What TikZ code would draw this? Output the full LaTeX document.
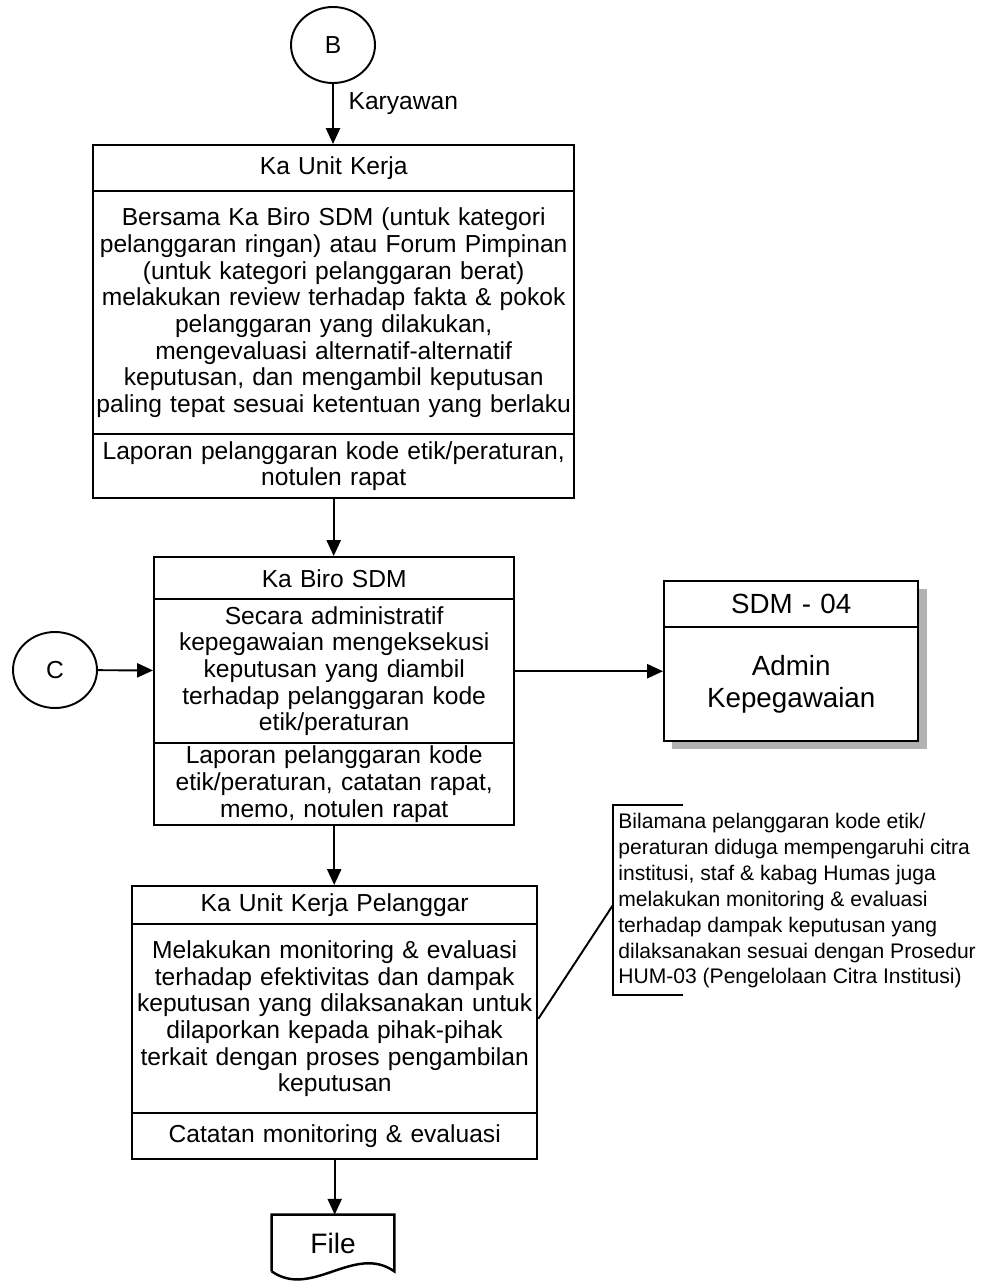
\documentclass[tikz,border=0pt]{standalone}
\usepackage{fontspec}
\setmainfont{Liberation Sans}
\usetikzlibrary{arrows.meta,shapes.geometric}
\tikzset{
    flow/.style={line width=1.1pt, -{Triangle[length=9pt,width=8pt]}},
    part/.style={draw, line width=1.4pt, fill=white, inner sep=0pt, align=center,
        anchor=north west, font=\fontsize{14}{15.2}\selectfont},
    offpage/.style={draw, ellipse, line width=1.1pt, minimum width=1.68cm,
        minimum height=1.52cm, inner sep=0pt, font=\fontsize{14}{16}\selectfont}
}
\begin{document}
\begin{tikzpicture}[x=0.02cm, y=-0.02cm]
    \useasboundingbox (0,0) rectangle (997,1288);

    % Off-page connectors
    \node[offpage] (B) at (333,45) {B};
    \node[offpage] (C) at (55,670) {C};

    % Ka Unit Kerja
    \node[part, text width=9.62cm, minimum height=0.92cm] (k1t) at (92,144) {Ka Unit Kerja};
    \node[part, text width=9.62cm, minimum height=4.86cm] (k1b) at (92,190) {Bersama Ka Biro SDM (untuk kategori\\
        pelanggaran ringan) atau Forum Pimpinan\\(untuk kategori pelanggaran berat)\\
        melakukan review terhadap fakta \& pokok\\pelanggaran yang dilakukan,\\
        mengevaluasi alternatif-alternatif\\keputusan, dan mengambil keputusan\\
        paling tepat sesuai ketentuan yang berlaku};
    \node[part, text width=9.62cm, minimum height=1.28cm] (k1f) at (92,433) {Laporan pelanggaran kode etik/peraturan,\\notulen rapat};

    % Ka Biro SDM
    \node[part, text width=7.2cm, minimum height=0.84cm] (k2t) at (153,556) {Ka Biro SDM};
    \node[part, text width=7.2cm, minimum height=2.88cm] (k2b) at (153,598) {Secara administratif\\
        kepegawaian mengeksekusi\\keputusan yang diambil\\terhadap pelanggaran kode\\etik/peraturan};
    \node[part, text width=7.2cm, minimum height=1.64cm] (k2f) at (153,742) {Laporan pelanggaran kode\\
        etik/peraturan, catatan rapat,\\memo, notulen rapat};

    % SDM - 04 (with shadow)
    \fill[gray!60] (672,589) rectangle (927,749);
    \node[part, text width=5.08cm, minimum height=0.92cm, font=\fontsize{15.8}{18}\selectfont] (admt) at (663,580) {SDM - 04};
    \node[part, text width=5.08cm, minimum height=2.28cm, font=\fontsize{15.8}{18}\selectfont] (admb) at (663,626) {Admin\\Kepegawaian};

    % Ka Unit Kerja Pelanggar
    \node[part, text width=8.1cm, minimum height=0.76cm] (k3t) at (131,885) {Ka Unit Kerja Pelanggar};
    \node[part, text width=8.1cm, minimum height=3.78cm] (k3b) at (131,923) {Melakukan monitoring \& evaluasi\\
        terhadap efektivitas dan dampak\\keputusan yang dilaksanakan untuk\\
        dilaporkan kepada pihak-pihak\\terkait dengan proses pengambilan\\keputusan};
    \node[part, text width=8.1cm, minimum height=0.92cm] (k3f) at (131,1112) {Catatan monitoring \& evaluasi};

    % Annotation
    \node[anchor=west, inner sep=0pt, text width=7.6cm, align=flush left,
        font=\fontsize{12}{14.7}\selectfont] (note) at (618,901) {Bilamana pelanggaran kode etik/\\
        peraturan diduga mempengaruhi citra\\institusi, staf \& kabag Humas juga\\
        melakukan monitoring \& evaluasi\\terhadap dampak keputusan yang\\
        dilaksanakan sesuai dengan Prosedur\\HUM-03 (Pengelolaan Citra Institusi)};
    \coordinate (brk) at (613,905);
    \draw[line width=1.1pt] (683,805) -- (613,805) -- (613,995) -- (683,995);
    \draw[line width=1.1pt] (k3b.east) -- (brk);

    % File
    \node[minimum width=2.44cm, minimum height=1.12cm, font=\fontsize{16}{18}\selectfont] (file) at (333,1243) {File};
    \draw[line width=1.4pt] (file.south west) -- (file.north west) -- (file.north east) -- (file.south east)
        .. controls +(-40,-28) and +(40,28) .. (file.south west);

    % Flow
    \draw[flow] (B.south) -- (B.south |- k1t.north) node[pos=0.33, right=5pt, font=\fontsize{14}{16}\selectfont] {Karyawan};
    \draw[flow] (k1f.south) -- (k1f.south |- k2t.north);
    \draw[flow] (C) -- (k2b);
    \draw[flow] (k2b) -- (k2b -| admb.west);
    \draw[flow] (k2f.south) -- (k2f.south |- k3t.north);
    \draw[flow] (k3f.south) -- (k3f.south |- file.north);
\end{tikzpicture}
\end{document}
